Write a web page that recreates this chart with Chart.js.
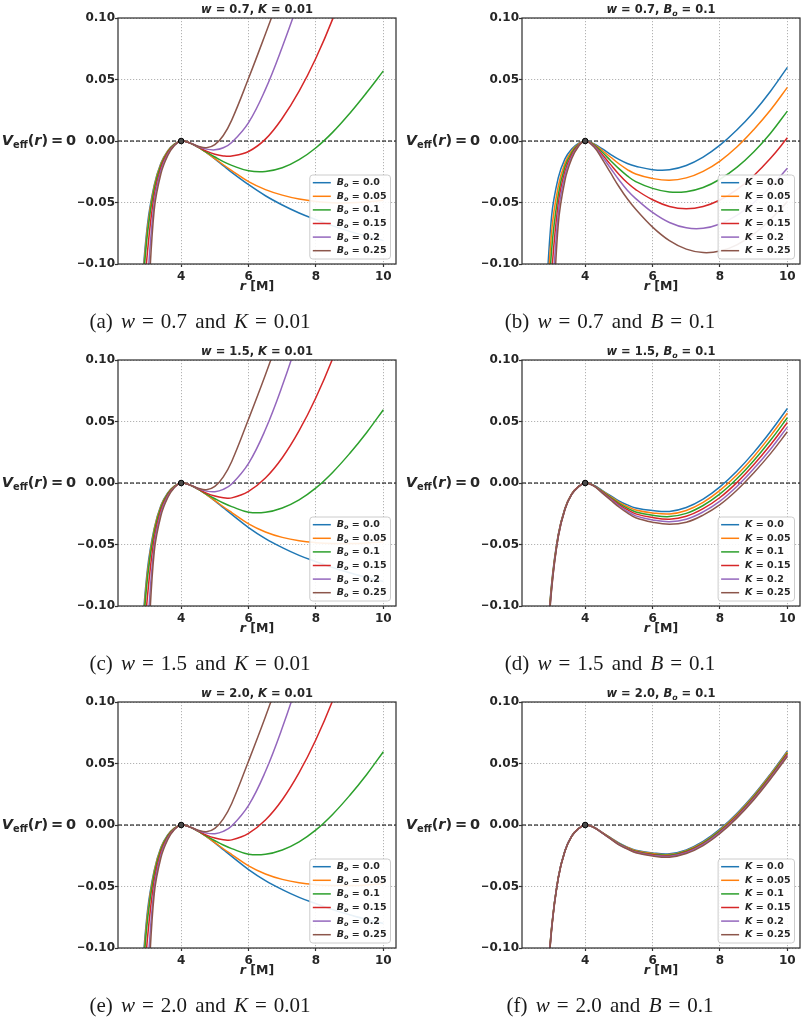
<!DOCTYPE html>
<html>
<head>
<meta charset="utf-8">
<script src="https://cdn.jsdelivr.net/npm/chart.js@4.4.1/dist/chart.umd.min.js"></script>
<style>
  body { margin: 0; background: #fff; width: 807px; height: 1024px; position: relative; overflow: hidden; }
  canvas { position: absolute; }
  .cap { position: absolute; transform: translate(-50%, -50%); white-space: nowrap; word-spacing: 3px;
         font-family: "Liberation Serif", serif; font-size: 21px; color: #1a1a1a; }
  .cap .eq { margin: 0 7px; }
</style>
</head>
<body>
<script>
// r grid shared by every curve (r in units of M)
const rGrid = [2.8, 3.0, 3.2, 3.4, 3.6, 3.8, 4.0, 4.25, 4.5, 4.75, 5.0, 5.25, 5.5,
               6.0, 6.5, 7.0, 7.5, 8.0, 8.5, 9.0, 9.5, 10.0];
const xRange = [2.125, 10.375];
const xTicks = [4, 6, 8, 10];
const yTicks = [-0.1, -0.05, 0, 0.05, 0.1];
const seriesLabels = ['0.0', '0.05', '0.1', '0.15', '0.2', '0.25'];
const colors = ['#1f77b4', '#ff7f0e', '#2ca02c', '#d62728', '#9467bd', '#8c564b'];
const peak = [4, 0];

// (a) w = 0.7, K = 0.01, series B_o
const vA = [
  [-0.13, -0.068, -0.036, -0.018, -0.008, -0.0025, 0, -0.0015, -0.005, -0.0095, -0.0145, -0.020, -0.0255, -0.0355, -0.0445, -0.052, -0.0585, -0.064, -0.069, -0.0735, -0.0775, -0.081],
  [-0.135, -0.071, -0.037, -0.0185, -0.0083, -0.0026, 0, -0.0015, -0.005, -0.0095, -0.0143, -0.0193, -0.024, -0.033, -0.0395, -0.044, -0.0472, -0.0492, -0.0502, -0.0503, -0.0496, -0.0482],
  [-0.14, -0.075, -0.039, -0.0195, -0.0088, -0.0027, 0, -0.0015, -0.005, -0.009, -0.013, -0.0168, -0.0198, -0.0242, -0.0248, -0.0218, -0.0152, -0.0055, 0.0072, 0.0224, 0.0392, 0.057],
  [-0.16, -0.09, -0.044, -0.0215, -0.0097, -0.003, 0, -0.0015, -0.0048, -0.0082, -0.0107, -0.0121, -0.0122, -0.0085, 0.0015, 0.0185, 0.0405, 0.0675, 0.0995, 0.137, 0.179, 0.225],
  [-0.19, -0.115, -0.05, -0.024, -0.0108, -0.0034, 0, -0.0015, -0.0045, -0.0066, -0.0072, -0.0055, -0.0012, 0.015, 0.042, 0.0765, 0.115, 0.16, 0.21, 0.265, 0.32, 0.38],
  [-0.21, -0.14, -0.056, -0.0265, -0.012, -0.0037, 0, -0.0015, -0.0042, -0.0055, -0.003, 0.0045, 0.017, 0.051, 0.087, 0.124, 0.162, 0.20, 0.245, 0.29, 0.34, 0.39]
];
// (b) w = 0.7, B_o = 0.1, series K
const vB = [
  [-0.15, -0.062, -0.030, -0.0145, -0.0065, -0.002, 0, -0.0022, -0.0062, -0.0108, -0.015, -0.0183, -0.0205, -0.0233, -0.0234, -0.0199, -0.0131, -0.0034, 0.0089, 0.0234, 0.0405, 0.0599],
  [-0.17, -0.075, -0.037, -0.018, -0.008, -0.0025, 0, -0.0025, -0.0075, -0.013, -0.0185, -0.0232, -0.0268, -0.0305, -0.032, -0.030, -0.0247, -0.0163, -0.0049, 0.0092, 0.0252, 0.0436],
  [-0.19, -0.09, -0.044, -0.021, -0.0095, -0.003, 0, -0.003, -0.009, -0.0158, -0.0225, -0.0283, -0.033, -0.0385, -0.0415, -0.0412, -0.0378, -0.0311, -0.0215, -0.009, 0.0063, 0.0243],
  [-0.21, -0.11, -0.051, -0.0245, -0.011, -0.0035, 0, -0.0035, -0.0108, -0.019, -0.027, -0.034, -0.0395, -0.0478, -0.0532, -0.055, -0.0532, -0.048, -0.0396, -0.0282, -0.0141, 0.0026],
  [-0.23, -0.14, -0.059, -0.028, -0.0128, -0.004, 0, -0.004, -0.0125, -0.022, -0.0315, -0.040, -0.0468, -0.0581, -0.0663, -0.0706, -0.071, -0.0675, -0.0605, -0.0502, -0.0374, -0.0222],
  [-0.25, -0.17, -0.068, -0.032, -0.0145, -0.0045, 0, -0.0045, -0.0145, -0.0258, -0.037, -0.047, -0.0555, -0.070, -0.081, -0.0879, -0.0907, -0.0895, -0.0844, -0.0757, -0.0637, -0.0493]
];
// (c) w = 1.5, K = 0.01, series B_o
const vC = [
  [-0.135, -0.07, -0.037, -0.0182, -0.0081, -0.0025, 0, -0.0015, -0.005, -0.0095, -0.0145, -0.020, -0.0255, -0.0362, -0.0452, -0.0525, -0.0588, -0.064, -0.0688, -0.073, -0.0768, -0.080],
  [-0.14, -0.073, -0.038, -0.0187, -0.0084, -0.0026, 0, -0.0015, -0.005, -0.0095, -0.0143, -0.0193, -0.024, -0.0332, -0.0398, -0.0442, -0.047, -0.0485, -0.0492, -0.0492, -0.0487, -0.0477],
  [-0.145, -0.077, -0.040, -0.0197, -0.0089, -0.0027, 0, -0.0015, -0.005, -0.009, -0.0128, -0.0163, -0.0192, -0.0237, -0.0238, -0.0203, -0.0137, -0.004, 0.0088, 0.024, 0.0409, 0.0596],
  [-0.165, -0.092, -0.045, -0.0217, -0.0098, -0.003, 0, -0.0015, -0.0048, -0.0082, -0.0106, -0.0119, -0.0121, -0.0068, 0.004, 0.0205, 0.0425, 0.0695, 0.1015, 0.139, 0.181, 0.227],
  [-0.19, -0.118, -0.051, -0.0242, -0.0109, -0.0034, 0, -0.0015, -0.0045, -0.0066, -0.0071, -0.0052, -0.0008, 0.016, 0.0435, 0.079, 0.12, 0.167, 0.22, 0.28, 0.34, 0.40],
  [-0.21, -0.14, -0.056, -0.0265, -0.012, -0.0037, 0, -0.0015, -0.0042, -0.0055, -0.0028, 0.005, 0.0175, 0.052, 0.088, 0.1265, 0.166, 0.21, 0.26, 0.31, 0.36, 0.41]
];
// (d) w = 1.5, B_o = 0.1, series K
const vD = [
  [-0.155, -0.083, -0.042, -0.0205, -0.0088, -0.0029, 0, -0.0018, -0.006, -0.0103, -0.0145, -0.0178, -0.0203, -0.0224, -0.0231, -0.0199, -0.0131, -0.0031, 0.0096, 0.0247, 0.0419, 0.0606],
  [-0.157, -0.084, -0.0424, -0.0207, -0.0089, -0.003, 0, -0.0019, -0.0064, -0.011, -0.0155, -0.0191, -0.0219, -0.0243, -0.0252, -0.0223, -0.0157, -0.006, 0.0065, 0.0214, 0.0383, 0.0568],
  [-0.159, -0.085, -0.0428, -0.0209, -0.009, -0.003, 0, -0.002, -0.0068, -0.0117, -0.0165, -0.0204, -0.0235, -0.0262, -0.0273, -0.0247, -0.0183, -0.0089, 0.0034, 0.0181, 0.0347, 0.053],
  [-0.161, -0.086, -0.0432, -0.0211, -0.0091, -0.003, 0, -0.0021, -0.0072, -0.0124, -0.0175, -0.0217, -0.0251, -0.0281, -0.0294, -0.0271, -0.0209, -0.0118, 0.0003, 0.0148, 0.0311, 0.0492],
  [-0.163, -0.087, -0.0436, -0.0213, -0.0092, -0.0031, 0, -0.0022, -0.0076, -0.0131, -0.0185, -0.023, -0.0267, -0.030, -0.0315, -0.0295, -0.0235, -0.0147, -0.0028, 0.0115, 0.0275, 0.0454],
  [-0.165, -0.088, -0.044, -0.0215, -0.0093, -0.0031, 0, -0.0023, -0.008, -0.0138, -0.0195, -0.0243, -0.0283, -0.0319, -0.0336, -0.0319, -0.0261, -0.0176, -0.0059, 0.0082, 0.0239, 0.0416]
];
// (e) w = 2.0, K = 0.01: reads the same as (c) in the picture
const vE = vC;
// (f) w = 2.0, B_o = 0.1, series K
const vF = [
  [-0.158, -0.084, -0.0425, -0.0208, -0.0089, -0.003, 0, -0.0018, -0.006, -0.0103, -0.0146, -0.018, -0.0205, -0.0227, -0.0234, -0.0202, -0.0134, -0.0034, 0.0093, 0.0244, 0.0416, 0.0602],
  [-0.159, -0.0845, -0.0427, -0.0209, -0.009, -0.003, 0, -0.0018, -0.0061, -0.0105, -0.0149, -0.0183, -0.0209, -0.0232, -0.024, -0.0208, -0.0141, -0.0041, 0.0086, 0.0236, 0.0408, 0.0593],
  [-0.16, -0.085, -0.0429, -0.021, -0.009, -0.003, 0, -0.0018, -0.0062, -0.0107, -0.0152, -0.0186, -0.0213, -0.0237, -0.0245, -0.0214, -0.0147, -0.0048, 0.0078, 0.0228, 0.0399, 0.0584],
  [-0.161, -0.0855, -0.0431, -0.0211, -0.0091, -0.003, 0, -0.0018, -0.0063, -0.0109, -0.0155, -0.0189, -0.0217, -0.0242, -0.0251, -0.022, -0.0154, -0.0055, 0.0071, 0.022, 0.0391, 0.0575],
  [-0.162, -0.086, -0.0433, -0.0212, -0.0091, -0.0031, 0, -0.0018, -0.0064, -0.0111, -0.0158, -0.0192, -0.0221, -0.0247, -0.0256, -0.0226, -0.016, -0.0062, 0.0063, 0.0212, 0.0382, 0.0566],
  [-0.163, -0.0865, -0.0435, -0.0213, -0.0092, -0.0031, 0, -0.0018, -0.0065, -0.0113, -0.0161, -0.0195, -0.0225, -0.0252, -0.0262, -0.0232, -0.0167, -0.0069, 0.0056, 0.0204, 0.0374, 0.0557]
];

const panels = [
  { tag: 'a', w: '0.7', vals: vA, vary: 'B' },
  { tag: 'b', w: '0.7', vals: vB, vary: 'K' },
  { tag: 'c', w: '1.5', vals: vC, vary: 'B' },
  { tag: 'd', w: '1.5', vals: vD, vary: 'K' },
  { tag: 'e', w: '2.0', vals: vE, vary: 'B' },
  { tag: 'f', w: '2.0', vals: vF, vary: 'K' }
];

const FONT = '"DejaVu Sans", sans-serif';
const INK = '#262626';

function runFont(st, size) {
  const sub = st.includes('s');
  return (st.includes('i') ? 'italic ' : '') + 'bold ' + (sub ? size * 0.68 : size) + 'px ' + FONT;
}
function runsWidth(ctx, parts, size) {
  let w = 0;
  parts.forEach(p => { ctx.font = runFont(p[1], size); w += ctx.measureText(p[0]).width; });
  return w;
}
// draw text made of styled pieces: b = bold, i = italic, s = subscript
function drawRuns(ctx, parts, x, y, align, size) {
  const w = runsWidth(ctx, parts, size);
  let cx = align === 'center' ? x - w / 2 : align === 'right' ? x - w : x;
  ctx.textAlign = 'left';
  ctx.textBaseline = 'middle';
  parts.forEach(p => {
    ctx.font = runFont(p[1], size);
    ctx.fillText(p[0], cx, y + (p[1].includes('s') ? size * 0.3 : 0));
    cx += ctx.measureText(p[0]).width;
  });
}

const decor = {
  id: 'decor',
  afterDraw(chart, args, o) {
    const ctx = chart.ctx, a = chart.chartArea;
    ctx.save();
    // legend, lower right
    const tw = Math.max(...o.legend.map(p => runsWidth(ctx, p, 9.5)));
    const bw = 27 + tw + 4, bh = 84;
    const bx = a.right - 5.5 - bw, by = a.bottom - 5 - bh;
    ctx.beginPath();
    ctx.roundRect(bx, by, bw, bh, 3);
    ctx.fillStyle = 'rgba(255,255,255,0.9)';
    ctx.fill();
    ctx.strokeStyle = '#cccccc';
    ctx.lineWidth = 1;
    ctx.stroke();
    o.legend.forEach((p, i) => {
      const y = by + 7.7 + i * 13.6;
      ctx.strokeStyle = colors[i];
      ctx.lineWidth = 1.5;
      ctx.beginPath();
      ctx.moveTo(bx + 3, y);
      ctx.lineTo(bx + 21, y);
      ctx.stroke();
      ctx.fillStyle = INK;
      drawRuns(ctx, p, bx + 27, y, 'left', 9.5);
    });
    // frame
    ctx.strokeStyle = '#333';
    ctx.lineWidth = 1.25;
    ctx.strokeRect(a.left, a.top, a.right - a.left, a.bottom - a.top);
    // titles and axis labels
    ctx.fillStyle = INK;
    const cx = (a.left + a.right) / 2;
    drawRuns(ctx, o.title, cx, a.top - 7.5, 'center', 11.5);
    drawRuns(ctx, [['r', 'bi'], [' [M]', 'b']], cx, a.bottom + 23, 'center', 12.5);
    drawRuns(ctx, [['V', 'bi'], ['eff', 'bs'], ['(', 'b'], ['r', 'bi'], [')', 'b'], ['\u2009=\u20090', 'b']],
             39, (a.top + a.bottom) / 2, 'center', 14.5);
    ctx.restore();
  }
};

const fmtY = v => (v < -1e-9 ? '\u2212' : '') + Math.abs(v).toFixed(2);

panels.forEach((p, idx) => {
  const col = idx % 2, row = Math.floor(idx / 2);
  const cv = document.createElement('canvas');
  cv.width = 404; cv.height = 342;
  cv.style.left = (col * 404) + 'px';
  cv.style.top = (row * 342) + 'px';
  document.body.appendChild(cv);

  const title = p.vary === 'B'
    ? [['w', 'bi'], [' = ' + p.w + ', ', 'b'], ['K', 'bi'], [' = 0.01', 'b']]
    : [['w', 'bi'], [' = ' + p.w + ', ', 'b'], ['B', 'bi'], ['o', 'bis'], [' = 0.1', 'b']];
  const legend = seriesLabels.map(l => p.vary === 'B'
    ? [['B', 'bi'], ['o', 'bis'], [' = ' + l, 'b']]
    : [['K', 'bi'], [' = ' + l, 'b']]);

  const datasets = p.vals.map((vals, i) => ({
    data: rGrid.map((r, j) => ({ x: r, y: vals[j] })),
    borderColor: colors[i],
    borderWidth: 1.5,
    pointRadius: 0,
    tension: 0.4,
    clip: 0,
    order: 6 - i
  }));
  datasets.push({
    data: xRange.map(x => ({ x: x, y: 0 })),
    borderColor: '#000',
    borderWidth: 1.1,
    borderDash: [4, 2],
    pointRadius: 0,
    clip: 0,
    order: 10
  });
  datasets.push({
    data: [{ x: peak[0], y: peak[1] }],
    showLine: false,
    pointRadius: 2.8,
    pointBackgroundColor: '#4a4a4a',
    pointBorderColor: '#000',
    pointBorderWidth: 1,
    order: 0
  });

  new Chart(cv, {
    type: 'line',
    data: { datasets: datasets },
    options: {
      responsive: false,
      animation: false,
      devicePixelRatio: 1,
      layout: { padding: { left: 78, right: 8, top: 18, bottom: 48 } },
      plugins: {
        legend: { display: false },
        tooltip: { enabled: false },
        decor: { title: title, legend: legend }
      },
      scales: {
        x: {
          type: 'linear',
          min: xRange[0], max: xRange[1],
          afterBuildTicks: s => { s.ticks = xTicks.map(v => ({ value: v })); },
          afterFit: s => { s.height = 30; },
          ticks: {
            autoSkip: false, maxRotation: 0, padding: 3, color: INK,
            font: { family: FONT, weight: 'bold', size: 12 },
            callback: v => String(v)
          },
          grid: { color: '#a0a0a0', lineWidth: 0.8, tickLength: 3, tickWidth: 1.2,
                  tickColor: '#333', tickBorderDash: [] },
          border: { display: false, dash: [1.2, 1.8] }
        },
        y: {
          min: yTicks[0], max: yTicks[yTicks.length - 1],
          afterBuildTicks: s => { s.ticks = yTicks.map(v => ({ value: v })); },
          afterFit: s => { s.width = 40; },
          ticks: {
            autoSkip: false, padding: 0, color: INK,
            font: { family: FONT, weight: 'bold', size: 12 },
            callback: v => fmtY(v)
          },
          grid: { color: '#a0a0a0', lineWidth: 0.8, tickLength: 3, tickWidth: 1.2,
                  tickColor: '#333', tickBorderDash: [] },
          border: { display: false, dash: [1.2, 1.8] }
        }
      }
    },
    plugins: [decor]
  });

  const cap = document.createElement('div');
  cap.className = 'cap';
  cap.style.left = (col === 0 ? 200 : 610) + 'px';
  cap.style.top = (row * 342 + 321) + 'px';
  cap.innerHTML = '(' + p.tag + ') <i>w</i><span class="eq">=</span>' + p.w + ' and ' +
    (p.vary === 'B' ? '<i>K</i><span class="eq">=</span>0.01' : '<i>B</i><span class="eq">=</span>0.1');
  document.body.appendChild(cap);
});
</script>
</body>
</html>
